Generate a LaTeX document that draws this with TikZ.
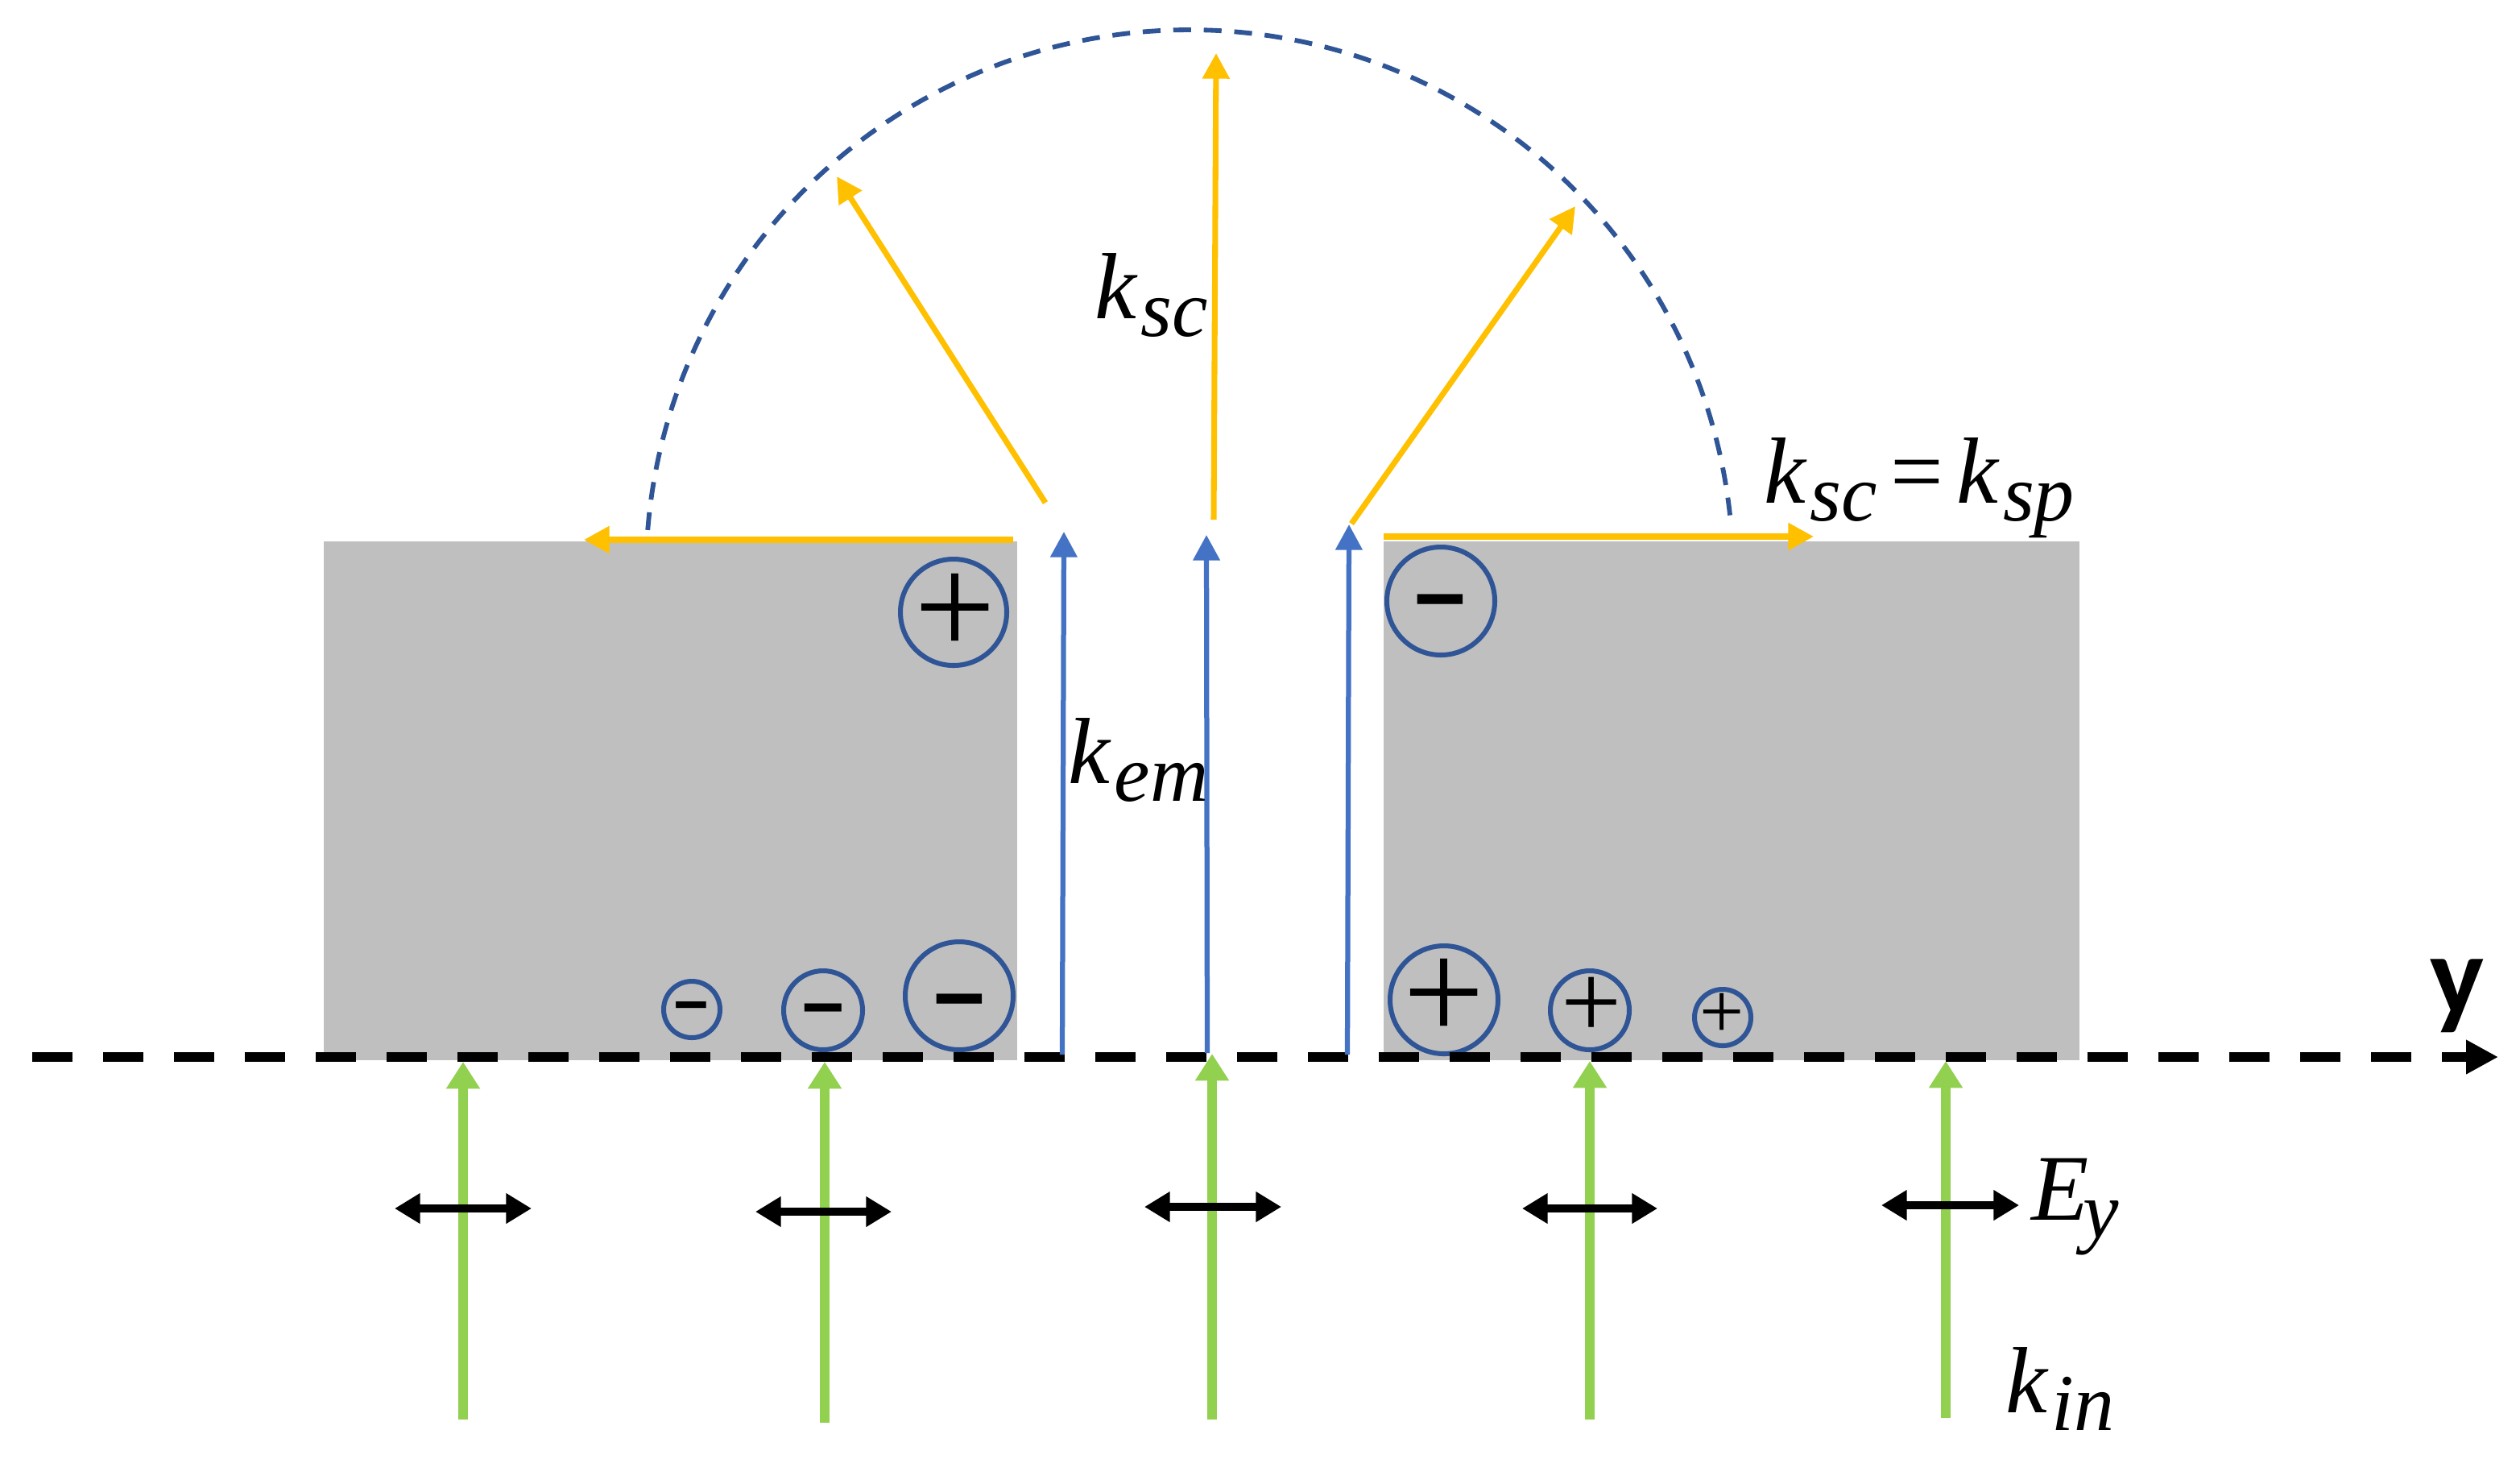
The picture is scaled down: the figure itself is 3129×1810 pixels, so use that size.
\documentclass[tikz,border=0pt]{standalone}
\usepackage{fontspec}
\setmainfont{Liberation Sans}
\newfontfamily\axisfont{Carlito}
\newfontfamily\labfont{Liberation Serif}
\newcommand{\kpart}[2]{{\itshape #1\kern0.05em\raisebox{-0.19em}{\fontsize{24}{26}\selectfont #2}}}
\usetikzlibrary{arrows.meta}
\definecolor{goldline}{HTML}{FFC000}
\definecolor{blueline}{HTML}{4472C4}
\definecolor{greenline}{HTML}{92D050}
\definecolor{navyline}{HTML}{2F5597}
\definecolor{slab}{HTML}{BFBFBF}
\tikzset{
  x=0.24pt,y=-0.24pt,
  slabfill/.style={fill=slab,draw=none},
  charge/.style={circle,draw=navyline,line width=1.45pt,minimum size=#1*0.24pt,inner sep=0pt,outer sep=0pt},
  plustext/.style={inner sep=0pt,outer sep=0pt,text=black,anchor=center,font=\labfont\fontsize{#1}{#1}\selectfont},
  minustext/.style={inner sep=0pt,outer sep=0pt,text=black,anchor=center,font=\bfseries\fontsize{#1}{#1}\selectfont},
  goldarrow/.style={draw=goldline,line width=1.7pt,-{Triangle[length=7.6pt,width=7.8pt]}},
  bluearrow/.style={draw=blueline,line width=1.5pt,-{Triangle[length=7.6pt,width=7.8pt]}},
  greenarrow/.style={draw=greenline,line width=3pt,-{Triangle[length=8pt,width=9.6pt]}},
  fieldarrow/.style={draw=black,line width=2.2pt,{Triangle[length=7.6pt,width=8.6pt]}-{Triangle[length=7.6pt,width=8.6pt]}},
  axisline/.style={draw=black,line width=3.1pt,dash pattern=on 12pt off 9.12pt,-{Triangle[length=9.6pt,width=9.6pt]}},
  arcline/.style={draw=navyline,line width=1.4pt,dash pattern=on 5.3pt off 3.8pt},
  mathlabel/.style={inner sep=0pt,outer sep=0pt,anchor=base west,font=\labfont\fontsize{28}{30}\selectfont},
}
\begin{document}
\begin{tikzpicture}
\useasboundingbox (0,0) rectangle (3129,1810);
\fill[white] (0,0) rectangle (3129,1810);
% slabs
\fill[slabfill] (402,672) rectangle (1263,1316);
\fill[slabfill] (1718,672) rectangle (2582,1316);
% dashed semicircle
\draw[arcline] plot[domain=175.4:4.9,samples=90,smooth] ({1477+675*cos(\x)},{712-675*sin(\x)});
% charges
\node[charge=132] (c1) at (1184,760) {};
\node[charge=134] (c2) at (1789,746) {};
\node[charge=70] (c3) at (859,1253) {};
\node[charge=98] (c4) at (1022,1254) {};
\node[charge=134] (c5) at (1191,1236) {};
\node[charge=134] (c6) at (1793,1241) {};
\node[charge=98] (c7) at (1974,1254) {};
\node[charge=70] (c8) at (2139,1263) {};
\node[plustext=43] (s1) at (1186,763) {+};
\node[minustext=27] (s2) at (1788,760) {−};
\node[minustext=18] (s3) at (858,1258) {−};
\node[minustext=22] (s4) at (1022,1264) {−};
\node[minustext=27] (s5) at (1191,1256) {−};
\node[plustext=43] (s6) at (1793,1241) {+};
\node[plustext=32] (s7) at (1976,1251) {+};
\node[plustext=23.5] (s8) at (2138,1261) {+};
% axis
\coordinate (axS) at (40,1312);
\coordinate (axE) at (3102,1312);
\draw[axisline] (axS) -- (axE);
% blue arrows
\coordinate (b1S) at (1319,1309); \coordinate (b1E) at (1321,660);
\coordinate (b2S) at (1499,1307); \coordinate (b2E) at (1498,664);
\coordinate (b3S) at (1673,1309); \coordinate (b3E) at (1675,651);
\draw[bluearrow] (b1S) -- (b1E);
\draw[bluearrow] (b2S) -- (b2E);
\draw[bluearrow] (b3S) -- (b3E);
% gold arrows
\coordinate (g1S) at (1258,670); \coordinate (g1E) at (725,670);
\coordinate (g2S) at (1298,624); \coordinate (g2E) at (1039,219);
\coordinate (g3S) at (1507,645); \coordinate (g3E) at (1510,66);
\coordinate (g4S) at (1678,650); \coordinate (g4E) at (1956,256);
\coordinate (g5S) at (1718,666); \coordinate (g5E) at (2252,666);
\draw[goldarrow] (g1S) -- (g1E);
\draw[goldarrow] (g2S) -- (g2E);
\draw[goldarrow] (g3S) -- (g3E);
\draw[goldarrow] (g4S) -- (g4E);
\draw[goldarrow] (g5S) -- (g5E);
% green arrows
\coordinate (i1S) at (575,1762); \coordinate (i1E) at (575,1318);
\coordinate (i2S) at (1024,1766); \coordinate (i2E) at (1024,1318);
\coordinate (i3S) at (1505,1762); \coordinate (i3E) at (1505,1308);
\coordinate (i4S) at (1974,1762); \coordinate (i4E) at (1974,1317);
\coordinate (i5S) at (2416,1760); \coordinate (i5E) at (2416,1317);
\draw[greenarrow] (i1S) -- (i1E);
\draw[greenarrow] (i2S) -- (i2E);
\draw[greenarrow] (i3S) -- (i3E);
\draw[greenarrow] (i4S) -- (i4E);
\draw[greenarrow] (i5S) -- (i5E);
% field arrows
\coordinate (f1S) at (490,1500); \coordinate (f1E) at (660,1500);
\coordinate (f2S) at (938,1504); \coordinate (f2E) at (1107,1504);
\coordinate (f3S) at (1421,1498); \coordinate (f3E) at (1591,1498);
\coordinate (f4S) at (1890,1500); \coordinate (f4E) at (2058,1500);
\coordinate (f5S) at (2336,1496); \coordinate (f5E) at (2507,1496);
\draw[fieldarrow] (f1S) -- (f1E);
\draw[fieldarrow] (f2S) -- (f2E);
\draw[fieldarrow] (f3S) -- (f3E);
\draw[fieldarrow] (f4S) -- (f4E);
\draw[fieldarrow] (f5S) -- (f5E);
% labels
\node[mathlabel] (lsc) at (1359,395) {\kpart{k}{sc}};
\node[mathlabel] (lem) at (1326,972) {\kpart{k}{em}};
\node[mathlabel] (lsp) at (2190,624) {\kpart{k}{sc}\kern0.14em=\kern0.14em\kpart{k}{sp}};
\node[mathlabel] (ley) at (2522,1514) {{\itshape E\kern-0.06em\raisebox{-0.19em}{\fontsize{24}{26}\selectfont y}}};
\node[mathlabel] (lin) at (2490,1753) {\kpart{k}{in}};
\node[inner sep=0pt,outer sep=0pt,anchor=base west,font=\axisfont\bfseries\fontsize{34}{34}\selectfont] (lax) at (3017,1259) {y};
\end{tikzpicture}
\end{document}
